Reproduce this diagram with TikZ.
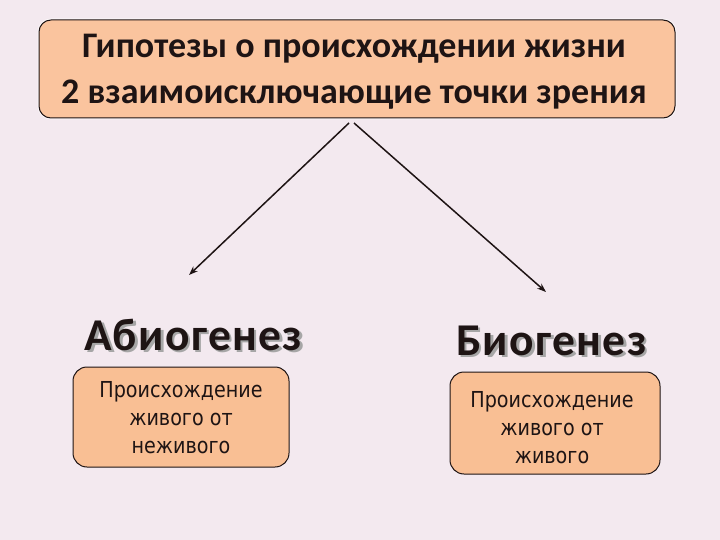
\documentclass[tikz,border=0pt]{standalone}
\usepackage{fontspec}
\setmainfont{Carlito}
\newfontfamily\headfont[LetterSpace=3]{Carlito}
\newfontfamily\bodyfont[FakeStretch=0.87]{DejaVu Sans}
\usetikzlibrary{arrows.meta}
\definecolor{bg}{HTML}{F3E9EF}
\definecolor{peach}{HTML}{FAC49E}
\definecolor{peachb}{HTML}{F9BF94}
\definecolor{ink}{HTML}{1E1414}
\tikzset{
  topbox/.style={draw=ink, line width=1pt, fill=peach, rounded corners=12pt,
    align=center, inner sep=0pt,
    preaction={draw=white, line width=3pt, opacity=0.6}},
  smallbox/.style={draw=ink, line width=1pt, fill=peachb, rounded corners=14pt,
    inner sep=0pt},
  boxtext/.style={align=center, inner sep=0pt, text=ink,
    font=\bodyfont\fontsize{22}{28}\selectfont},
  gtitle/.style={inner sep=0pt, font=\headfont\bfseries\fontsize{45.5}{50}\selectfont},
  arr/.style={draw=ink, line width=1.5pt, -{Stealth[length=9pt,width=6.5pt]}},
}
\begin{document}
\begin{tikzpicture}[x=1pt,y=-1pt]
\fill[bg] (0,0) rectangle (720,540);
\useasboundingbox (0,0) rectangle (720,540);

\node[topbox, minimum width=636pt, minimum height=98pt] (top) at (357,69) {};
\node[align=center, inner sep=0pt, text=ink,
  font=\fontsize{36}{46}\bfseries\selectfont] (toptext) at (354,72)
  {Гипотезы о происхождении жизни\\2 взаимоисключающие точки зрения};

\node[gtitle, anchor=base, text=black!35] (abiosh) at (196,352.5) {Абиогенез};
\node[gtitle, anchor=base, text=ink] (abio) at (193.5,350) {Абиогенез};
\node[gtitle, anchor=base, text=black!35] (biosh) at (554,357.5) {Биогенез};
\node[gtitle, anchor=base, text=ink] (bio) at (551.5,355) {Биогенез};

\node[smallbox, minimum width=216pt, minimum height=100pt] (abiobox) at (181,417) {};
\node[boxtext] (abiotext) at (181,418) {Происхождение\\живого от\\неживого};
\node[smallbox, minimum width=210pt, minimum height=102pt] (biobox) at (555,423) {};
\node[boxtext] (biotext) at (552,428) {Происхождение\\живого от\\живого};

\coordinate (s1) at (349,123);
\coordinate (e1) at (189,275);
\coordinate (s2) at (354,123);
\coordinate (e2) at (546,292);
\draw[arr] (s1) -- (e1);
\draw[arr] (s2) -- (e2);
\end{tikzpicture}
\end{document}
